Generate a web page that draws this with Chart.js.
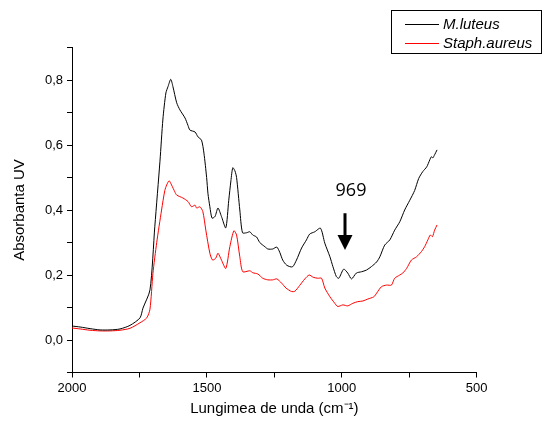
<!DOCTYPE html>
<html>
<head>
<meta charset="utf-8">
<script src="https://cdn.jsdelivr.net/npm/chart.js@4/dist/chart.umd.min.js"></script>
<style>
html,body{margin:0;padding:0;background:#fff;}
#wrap{width:543px;height:423px;position:relative;}
</style>
</head>
<body>
<div id="wrap"><canvas id="c" width="543" height="423"></canvas></div>
<script>
// ---- data ----
const seriesNames = ['M.luteus', 'Staph.aureus'];
const luteusWn = [2000,1970,1933,1896,1859,1822,1785,1748,1737,1711,1693,1674,1663,1652,1644,1634,1626,1612,1600,1581,1570,1563,1544,1533,1520,1511,1501,1496,1489,1481,1470,1459,1446,1430,1419,1411,1404,1396,1390,1378,1368,1353,1341,1330,1316,1304,1285,1274,1256,1241,1230,1219,1204,1183,1168,1149,1131,1119,1100,1079,1063,1044,1033,1020,1011,993,978,964,946,927,909,890,871,859,841,822,804,785,767,748,730,715,700,685,674,668,663,656,647];
const luteusAbs = [0.043,0.040,0.035,0.031,0.031,0.034,0.045,0.068,0.098,0.154,0.35,0.55,0.68,0.76,0.78,0.802,0.78,0.73,0.708,0.683,0.66,0.646,0.64,0.625,0.615,0.575,0.50,0.45,0.41,0.375,0.38,0.406,0.38,0.345,0.43,0.49,0.53,0.52,0.50,0.40,0.33,0.33,0.333,0.323,0.317,0.30,0.287,0.28,0.28,0.286,0.27,0.246,0.23,0.225,0.246,0.283,0.308,0.326,0.333,0.344,0.298,0.256,0.226,0.195,0.19,0.218,0.206,0.188,0.206,0.21,0.215,0.226,0.24,0.256,0.292,0.308,0.338,0.364,0.40,0.43,0.46,0.497,0.518,0.533,0.554,0.564,0.56,0.57,0.585];
const aureusWn = [2000,1970,1933,1896,1859,1822,1785,1748,1723,1711,1700,1686,1668,1656,1649,1640,1631,1619,1612,1589,1570,1557,1544,1538,1526,1515,1504,1489,1479,1467,1459,1446,1430,1415,1400,1390,1378,1367,1341,1330,1311,1293,1274,1256,1241,1223,1207,1186,1174,1156,1137,1121,1106,1089,1075,1063,1044,1026,1015,996,978,959,941,922,904,881,871,853,834,816,804,785,774,760,742,723,705,693,681,672,664,656,647];
const aureusAbs = [0.037,0.034,0.030,0.028,0.028,0.030,0.036,0.053,0.068,0.095,0.205,0.30,0.40,0.46,0.477,0.49,0.477,0.456,0.446,0.437,0.426,0.41,0.415,0.406,0.41,0.395,0.338,0.267,0.246,0.252,0.267,0.246,0.22,0.287,0.336,0.323,0.256,0.21,0.213,0.207,0.203,0.19,0.185,0.185,0.188,0.175,0.16,0.149,0.15,0.168,0.188,0.20,0.193,0.19,0.19,0.16,0.133,0.113,0.103,0.108,0.105,0.113,0.118,0.12,0.126,0.133,0.144,0.164,0.169,0.169,0.19,0.20,0.206,0.22,0.246,0.256,0.272,0.287,0.308,0.323,0.318,0.338,0.354];
const xTickValues = [2000,1750,1500,1250,1000,750,500];
const xLabelValues = [2000,1500,1000,500];
const yTickValues = [-0.1,0,0.1,0.2,0.3,0.4,0.5,0.6,0.7,0.8,0.9];
const yLabelValues = [0,0.2,0.4,0.6,0.8];
const peakLabel = '969';
const peakArrowWn = 988;

const toPts = (xs, ys) => xs.map((x, i) => ({x: x, y: ys[i]}));

// ---- plugins ----
const legendBox = {
  id: 'legendBox',
  afterDraw(chart) {
    const ctx = chart.ctx;
    ctx.save();
    ctx.strokeStyle = '#000';
    ctx.lineWidth = 1;
    ctx.strokeRect(391.5, 10.5, 150, 43);
    const rowsY = [24, 43];
    chart.data.datasets.forEach((ds, i) => {
      ctx.strokeStyle = ds.borderColor;
      ctx.beginPath();
      ctx.moveTo(405, rowsY[i] + 0.5);
      ctx.lineTo(439, rowsY[i] + 0.5);
      ctx.stroke();
      ctx.fillStyle = '#000';
      ctx.font = 'italic 15px "Liberation Sans", Arial, sans-serif';
      ctx.textBaseline = 'middle';
      ctx.textAlign = 'left';
      ctx.fillText(ds.label, 443, rowsY[i] + 1);
    });
    ctx.restore();
  }
};
const peakArrow = {
  id: 'peakArrow',
  afterDatasetsDraw(chart) {
    const ctx = chart.ctx, xs = chart.scales.x, ys = chart.scales.y;
    const px = Math.round(xs.getPixelForValue(peakArrowWn));
    const yText = ys.getPixelForValue(0.458);
    const yTop = ys.getPixelForValue(0.39);
    const yBase = ys.getPixelForValue(0.323);
    const yTip = ys.getPixelForValue(0.277);
    ctx.save();
    ctx.fillStyle = '#000';
    ctx.font = '18px "Open Sans", "Liberation Sans", sans-serif';
    ctx.textAlign = 'center';
    ctx.textBaseline = 'middle';
    ctx.fillText(peakLabel, px + 6, yText);
    ctx.fillRect(px - 1.5, yTop, 3, yBase - yTop + 1);
    ctx.beginPath();
    ctx.moveTo(px - 7.5, yBase);
    ctx.lineTo(px + 7.5, yBase);
    ctx.lineTo(px, yTip);
    ctx.closePath();
    ctx.fill();
    ctx.restore();
  }
};

const tickFont = {family: '"Liberation Sans", Arial, sans-serif', size: 13};
const titleFont = {family: '"Liberation Sans", Arial, sans-serif', size: 15};

new Chart(document.getElementById('c'), {
  type: 'line',
  data: {
    datasets: [
      {label: seriesNames[0], data: toPts(luteusWn, luteusAbs), borderColor: '#000000', borderWidth: 1, pointRadius: 0, tension: 0.25, fill: false},
      {label: seriesNames[1], data: toPts(aureusWn, aureusAbs), borderColor: '#ff0000', borderWidth: 1, pointRadius: 0, tension: 0.25, fill: false}
    ]
  },
  options: {
    responsive: false,
    animation: false,
    devicePixelRatio: 1,
    layout: {padding: {left: 0, top: 47.5, right: 66.3, bottom: 0}},
    plugins: {legend: {display: false}, tooltip: {enabled: false}},
    scales: {
      x: {
        type: 'linear', reverse: true, min: 500, max: 2000,
        afterBuildTicks: s => { s.ticks = xTickValues.map(v => ({value: v})); },
        afterFit: s => { s.height = 50.5; },
        ticks: {
          autoSkip: false, maxRotation: 0, color: '#000', font: tickFont, padding: 3,
          callback: v => xLabelValues.includes(v) ? String(v) : ''
        },
        grid: {display: true, drawOnChartArea: false, drawTicks: true, tickLength: 5, color: '#000', lineWidth: 1},
        border: {display: true, color: '#000', width: 1},
        title: {display: true, text: 'Lungimea de unda (cm\u207B\u00B9)', color: '#000', font: titleFont, padding: {top: 0, bottom: 5}}
      },
      y: {
        type: 'linear', min: -0.1, max: 0.9,
        afterBuildTicks: s => { s.ticks = yTickValues.map(v => ({value: v})); },
        afterFit: s => { s.width = 72; },
        ticks: {
          autoSkip: false, color: '#000', font: tickFont, padding: 4,
          callback: v => yLabelValues.some(l => Math.abs(l - v) < 1e-6) ? v.toFixed(1).replace('.', ',') : ''
        },
        grid: {display: true, drawOnChartArea: false, drawTicks: true, tickLength: 5, color: '#000', lineWidth: 1},
        border: {display: true, color: '#000', width: 1},
        title: {display: true, text: 'Absorbanta UV', color: '#000', font: titleFont, padding: {top: 11, bottom: 0}}
      }
    }
  },
  plugins: [legendBox, peakArrow]
});
</script>
</body>
</html>
